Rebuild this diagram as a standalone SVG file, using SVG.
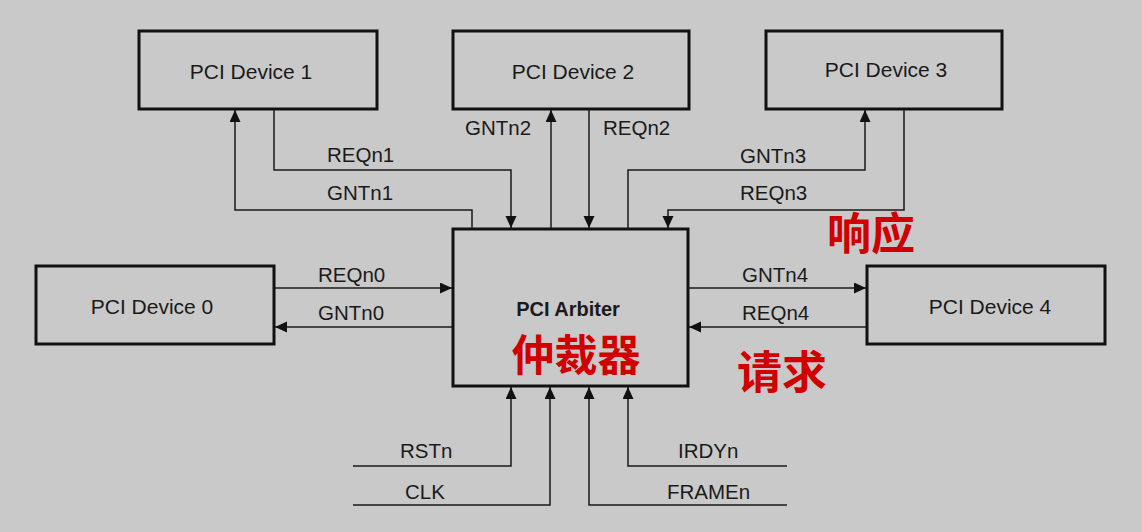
<svg xmlns="http://www.w3.org/2000/svg" width="1142" height="532" viewBox="0 0 1142 532">
<style>
.box{fill:#c9c9c9;stroke:#111;stroke-width:3}
.dev{font-family:"Liberation Sans",Arial,sans-serif;font-size:21px;fill:#1a1a1a;text-anchor:middle}
.lbl{font-family:"Liberation Sans",Arial,sans-serif;font-size:20.5px;fill:#1a1a1a}
.cn{font-family:"Noto Sans CJK SC",sans-serif;font-weight:bold;fill:#d00000}
.wire{fill:none;stroke:#1a1a1a;stroke-width:1.5}
</style>
<defs>
<marker id="arr" markerUnits="userSpaceOnUse" markerWidth="13" markerHeight="12" refX="12" refY="5.5" orient="auto">
<path d="M0,0 L12,5.5 L0,11 z" fill="#111"/>
</marker>
</defs>
<rect width="1142" height="532" fill="#c9c9c9"/>
<g id="dev1"><rect class="box" x="139" y="31" width="238" height="78"/><text class="dev" x="251" y="79">PCI Device 1</text></g>
<g id="dev2"><rect class="box" x="453" y="31" width="236" height="78"/><text class="dev" x="573" y="79">PCI Device 2</text></g>
<g id="dev3"><rect class="box" x="766" y="31" width="236" height="78"/><text class="dev" x="886" y="77">PCI Device 3</text></g>
<g id="dev0"><rect class="box" x="36" y="266" width="238" height="78"/><text class="dev" x="152" y="314">PCI Device 0</text></g>
<g id="dev4"><rect class="box" x="867" y="266" width="238" height="78"/><text class="dev" x="990" y="314">PCI Device 4</text></g>
<g id="arbiter"><rect class="box" x="453" y="229" width="235" height="157"/>
<text x="568" y="316" font-family="'Liberation Sans',Arial,sans-serif" font-size="20px" font-weight="bold" fill="#1a1a1a" text-anchor="middle">PCI Arbiter</text>
<text class="cn" x="576" y="371" font-size="43px" text-anchor="middle">仲裁器</text></g>
<g id="connectors">
<path class="wire" d="M472,229 V210 H235 V110" marker-end="url(#arr)"/>
<path class="wire" d="M274,109 V170 H511 V228" marker-end="url(#arr)"/>
<path class="wire" d="M551,229 V110" marker-end="url(#arr)"/>
<path class="wire" d="M589,109 V228" marker-end="url(#arr)"/>
<path class="wire" d="M628,229 V170 H865 V110" marker-end="url(#arr)"/>
<path class="wire" d="M904,109 V210 H668 V228" marker-end="url(#arr)"/>
<path class="wire" d="M274,288 H452" marker-end="url(#arr)"/>
<path class="wire" d="M453,327 H275" marker-end="url(#arr)"/>
<path class="wire" d="M688,288 H866" marker-end="url(#arr)"/>
<path class="wire" d="M867,327 H689" marker-end="url(#arr)"/>
<path class="wire" d="M353,466 H511 V387" marker-end="url(#arr)"/>
<path class="wire" d="M353,505 H550 V387" marker-end="url(#arr)"/>
<path class="wire" d="M787,505 H589 V387" marker-end="url(#arr)"/>
<path class="wire" d="M787,466 H628 V387" marker-end="url(#arr)"/>
</g>
<g id="labels">
<text class="lbl" x="327" y="162">REQn1</text>
<text class="lbl" x="327" y="200">GNTn1</text>
<text class="lbl" x="465" y="135">GNTn2</text>
<text class="lbl" x="603" y="135">REQn2</text>
<text class="lbl" x="740" y="163">GNTn3</text>
<text class="lbl" x="740" y="200">REQn3</text>
<text class="lbl" x="318" y="282">REQn0</text>
<text class="lbl" x="318" y="320">GNTn0</text>
<text class="lbl" x="742" y="282">GNTn4</text>
<text class="lbl" x="742" y="320">REQn4</text>
<text class="lbl" x="400" y="458">RSTn</text>
<text class="lbl" x="405" y="499">CLK</text>
<text class="lbl" x="678" y="458">IRDYn</text>
<text class="lbl" x="667" y="499">FRAMEn</text>
<text class="cn" x="827" y="250" font-size="44px">响应</text>
<text class="cn" x="737" y="389" font-size="45px">请求</text>
</g>
</svg>
